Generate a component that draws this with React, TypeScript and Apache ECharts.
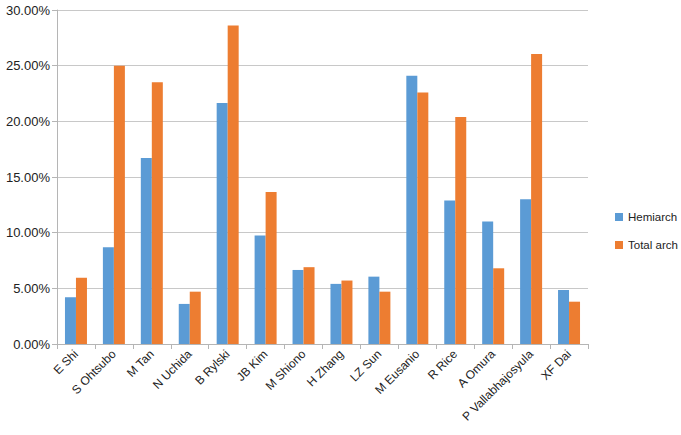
import React, { useEffect, useRef } from "react";
import * as echarts from "echarts";

const categories = [
  "E Shi", "S Ohtsubo", "M Tan", "N Uchida", "B Rylski", "JB Kim", "M Shiono",
  "H Zhang", "LZ Sun", "M Eusanio", "R Rice", "A Omura", "P Vallabhajosyula", "XF Dai",
];
const hemiarch = [4.2, 8.7, 16.7, 3.6, 21.65, 9.75, 6.65, 5.4, 6.05, 24.1, 12.9, 11.0, 13.0, 4.85];
const totalArch = [5.95, 25.0, 23.5, 4.7, 28.6, 13.65, 6.9, 5.7, 4.7, 22.6, 20.4, 6.8, 26.05, 3.8];

const FONT = "Liberation Sans";

export default function App() {
  const ref = useRef<HTMLDivElement>(null);
  useEffect(() => {
    document.body.style.margin = "0";
    const chart = echarts.init(ref.current!, undefined, { renderer: "svg" });
    chart.setOption({
      animation: false,
      textStyle: { fontFamily: FONT },
      grid: { left: 57, right: 93, top: 10, bottom: 91 },
      legend: {
        orient: "vertical",
        left: 615,
        top: 211,
        padding: 0,
        itemWidth: 8,
        itemHeight: 8,
        itemGap: 16,
        icon: "rect",
        textStyle: { fontFamily: FONT, fontSize: 11.5, color: "#222" },
        data: ["Hemiarch", "Total arch"],
      },
      xAxis: {
        type: "category",
        data: categories,
        axisLine: { lineStyle: { color: "#b5b5b5" } },
        axisTick: { show: true, length: 5, lineStyle: { color: "#b5b5b5" } },
        axisLabel: {
          rotate: 45,
          interval: 0,
          margin: 8,
          fontFamily: FONT,
          fontSize: 12,
          color: "#222",
        },
      },
      yAxis: {
        type: "value",
        min: 0,
        max: 30,
        interval: 5,
        axisLine: { show: true, lineStyle: { color: "#b5b5b5" } },
        axisTick: { show: true, length: 5, lineStyle: { color: "#b5b5b5" } },
        splitLine: { lineStyle: { color: "#c8c8c8" } },
        axisLabel: {
          margin: 7,
          fontFamily: FONT,
          fontSize: 13,
          color: "#222",
          formatter: (v: number) => v.toFixed(2) + "%",
        },
      },
      series: [
        {
          name: "Hemiarch",
          type: "bar",
          data: hemiarch,
          itemStyle: { color: "#5B9BD5" },
          barGap: "0%",
          barCategoryGap: "42%",
        },
        {
          name: "Total arch",
          type: "bar",
          data: totalArch,
          itemStyle: { color: "#ED7D31" },
          barGap: "0%",
          barCategoryGap: "42%",
        },
      ],
    });
    return () => chart.dispose();
  }, []);
  return <div ref={ref} style={{ width: 681, height: 435 }} />;
}
